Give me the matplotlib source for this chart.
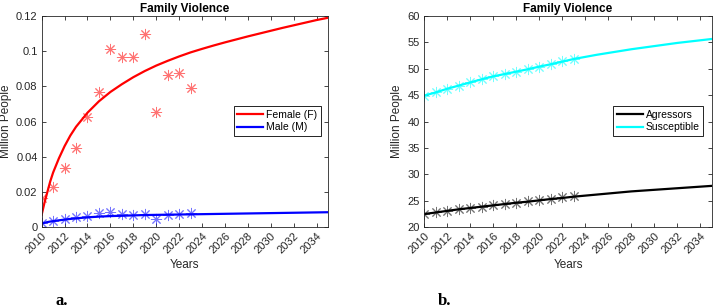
import numpy as np
import matplotlib
matplotlib.use("Agg")
import matplotlib.pyplot as plt
from matplotlib.ticker import FuncFormatter

plt.rcParams['font.family'] = ['Liberation Sans', 'DejaVu Sans']

# observed data (stars)
years_obs = [2010, 2011, 2012, 2013, 2014, 2015, 2016, 2017, 2018, 2019, 2020, 2021, 2022, 2023]
female_obs = [0.0165, 0.0229, 0.0334, 0.0447, 0.0624, 0.077, 0.101, 0.0965, 0.0965, 0.110, 0.0652, 0.0863, 0.0874, 0.0792]
male_obs = [0.0021, 0.0034, 0.0044, 0.0055, 0.0064, 0.0078, 0.0087, 0.0074, 0.0068, 0.0074, 0.0045, 0.0068, 0.0074, 0.0081]
suscep_obs = [44.9, 45.5, 46.2, 46.8, 47.4, 48.1, 48.6, 49.0, 49.45, 49.9, 50.4, 50.9, 51.4, 51.9]
agress_obs = [22.5, 22.9, 23.1, 23.35, 23.6, 23.85, 24.2, 24.35, 24.6, 24.85, 25.1, 25.4, 25.7, 25.9]

# model curves
years_fit = [2010, 2010.25, 2010.5, 2010.75, 2011, 2011.5, 2012, 2012.5, 2013, 2014, 2015, 2016,
             2017, 2018, 2019, 2020, 2021, 2022, 2023, 2024, 2025, 2026, 2027, 2028,
             2029, 2030, 2031, 2032, 2033, 2034, 2035]
female_fit = [0.007, 0.014, 0.020, 0.026, 0.031, 0.039, 0.046, 0.052, 0.057, 0.065, 0.0715, 0.0768,
              0.0812, 0.0852, 0.0887, 0.0918, 0.0945, 0.0970, 0.0993, 0.1013, 0.1032, 0.1050, 0.1067, 0.1084,
              0.1100, 0.1116, 0.1132, 0.1147, 0.1162, 0.1177, 0.1190]
male_fit = [0.0020, 0.0024, 0.0028, 0.0031, 0.0033, 0.0038, 0.0042, 0.0046, 0.0049, 0.0055, 0.0059, 0.0062,
            0.0064, 0.0066, 0.0068, 0.0069, 0.0070, 0.0071, 0.0072, 0.0073, 0.0074, 0.0075, 0.0076, 0.0077,
            0.0078, 0.0079, 0.0080, 0.0081, 0.0082, 0.0083, 0.0084]
suscep_fit = [44.9, 45.05, 45.2, 45.35, 45.5, 45.85, 46.2, 46.5, 46.8, 47.4, 48.0, 48.55,
              49.0, 49.45, 49.9, 50.4, 50.85, 51.35, 51.85, 52.25, 52.65, 53.0, 53.35, 53.7,
              54.0, 54.3, 54.6, 54.9, 55.15, 55.4, 55.65]
agress_fit = [22.45, 22.52, 22.6, 22.67, 22.75, 22.9, 23.05, 23.2, 23.35, 23.6, 23.85, 24.1,
              24.35, 24.6, 24.8, 25.05, 25.3, 25.5, 25.75, 25.95, 26.15, 26.35, 26.55, 26.75,
              26.9, 27.05, 27.2, 27.35, 27.5, 27.65, 27.8]

xticks = list(range(2010, 2035, 2))

fig = plt.figure(figsize=(7.15, 3.08), dpi=100)
ax1 = fig.add_axes([0.0583, 0.263, 0.4004, 0.685])
ax2 = fig.add_axes([0.593, 0.263, 0.4028, 0.685])

star = dict(linestyle='none', marker=(8, 2, 0), markersize=8, alpha=0.55, markeredgewidth=0.7)

ax1.plot(years_obs, female_obs, color='r', **star)
ax1.plot(years_obs, male_obs, color='b', **star)
ax1.plot(years_fit, female_fit, color='r', lw=1.6, label='Female (F)')
ax1.plot(years_fit, male_fit, color='b', lw=1.6, label='Male (M)')
ax1.set_ylim(0, 0.12)
ax1.set_yticks([0, 0.02, 0.04, 0.06, 0.08, 0.1, 0.12])
ax1.yaxis.set_major_formatter(FuncFormatter(lambda v, p: '%g' % round(v, 4)))

ax2.plot(years_obs, suscep_obs, color='cyan', **star)
ax2.plot(years_obs, agress_obs, color='k', **star)
ax2.plot(years_fit, agress_fit, color='k', lw=1.6, label='Agressors')
ax2.plot(years_fit, suscep_fit, color='cyan', lw=1.6, label='Susceptible')
ax2.set_ylim(20, 60)
ax2.set_yticks(range(20, 61, 5))

for ax in (ax1, ax2):
    ax.set_xlim(2010, 2035)
    ax.set_xticks(xticks)
    ax.set_xticklabels([str(x) for x in xticks], rotation=45, ha='right', rotation_mode='anchor')
    ax.tick_params(direction='in', top=True, right=True, labelsize=8, colors='#262626',
                   length=3, width=0.6, pad=3)
    for s in ax.spines.values():
        s.set_color('#262626')
        s.set_linewidth(0.6)
    ax.set_title('Family Violence', fontsize=8.5, fontweight='bold', pad=3)
    ax.set_xlabel('Years', fontsize=8.5, color='#262626', labelpad=2)
    ax.set_ylabel('Million People', fontsize=8.5, color='#262626', labelpad=3)

leg_style = dict(loc='lower right', fontsize=7.5, fancybox=False, edgecolor='black', framealpha=1,
                 handlelength=2.5, borderpad=0.35, labelspacing=0.25, handletextpad=0.3,
                 borderaxespad=0)
leg1 = ax1.legend(bbox_to_anchor=(0.976, 0.431), **leg_style)
leg2 = ax2.legend(bbox_to_anchor=(0.97, 0.431), **leg_style)
for leg in (leg1, leg2):
    leg.get_frame().set_linewidth(0.6)

fig.text(0.077, 0.01, 'a.', fontsize=12, fontweight='bold', family='Liberation Serif')
fig.text(0.612, 0.01, 'b.', fontsize=12, fontweight='bold', family='Liberation Serif')

fig.savefig('out.png', dpi=100)
